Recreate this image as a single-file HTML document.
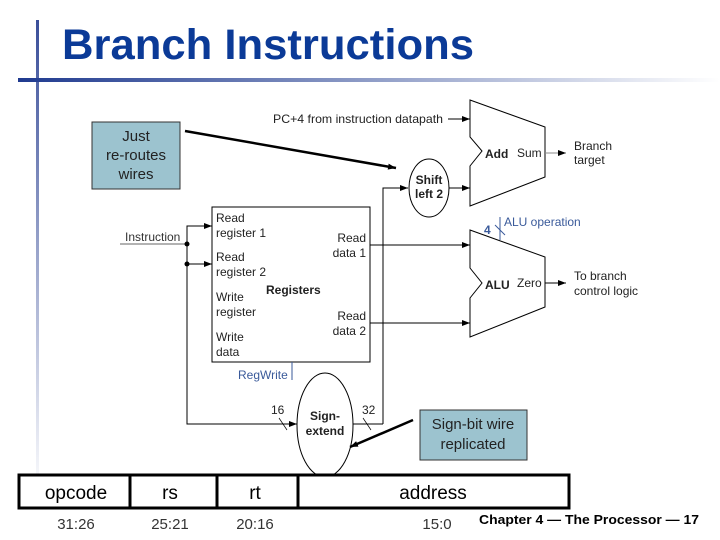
<!DOCTYPE html>
<html><head><meta charset="utf-8"><style>
html,body{margin:0;padding:0;background:#fff;}
svg{display:block;font-family:"Liberation Sans",sans-serif;}
</style></head><body>
<svg width="720" height="540" viewBox="0 0 720 540" xmlns="http://www.w3.org/2000/svg">
<defs>
<linearGradient id="hg" x1="0" x2="1" y1="0" y2="0"><stop offset="0" stop-color="#1f3a8f"/><stop offset="1" stop-color="#ffffff"/></linearGradient>
<linearGradient id="vg" x1="0" x2="0" y1="0" y2="1"><stop offset="0" stop-color="#3a4f9a"/><stop offset="1" stop-color="#ffffff"/></linearGradient>
<marker id="a" markerWidth="8" markerHeight="6" refX="8" refY="3" orient="auto" markerUnits="userSpaceOnUse"><path d="M0,0L8,3L0,6z" fill="#000"/></marker>
</defs>
<rect x="36" y="20" width="3" height="480" fill="url(#vg)"/>
<rect x="18" y="78" width="702" height="4" fill="url(#hg)"/>
<text x="62" y="59" font-size="43" font-weight="bold" fill="#0b3a97" textLength="412" lengthAdjust="spacingAndGlyphs">Branch Instructions</text>

<rect x="92" y="122" width="88" height="67" fill="#9cc3cf" stroke="#333"/>
<text font-size="15" text-anchor="middle" fill="#222"><tspan x="136" y="141">Just</tspan><tspan x="136" y="160">re-routes</tspan><tspan x="136" y="179">wires</tspan></text>
<line x1="185" y1="131" x2="396" y2="168" stroke="#000" stroke-width="2.5" marker-end="url(#a)"/>

<g font-size="12" fill="#222">
<text x="273" y="123" textLength="170" lengthAdjust="spacingAndGlyphs">PC+4 from instruction datapath</text>
<line x1="448" y1="119" x2="470" y2="119" stroke="#000" marker-end="url(#a)"/>
<polygon points="470,100 545,127 545,177 470,206 470,166 482,151 470,137" fill="#fff" stroke="#000"/>
<text x="485" y="158" font-weight="bold">Add</text><text x="517" y="157">Sum</text>
<line x1="545" y1="153" x2="566" y2="153" stroke="#888" marker-end="url(#a)"/>
<text x="574" y="150">Branch</text><text x="574" y="164">target</text>

<ellipse cx="429" cy="188" rx="20" ry="29" fill="#fff" stroke="#000"/>
<text x="429" y="184" font-weight="bold" text-anchor="middle">Shift</text>
<text x="429" y="198" font-weight="bold" text-anchor="middle">left 2</text>
<polyline points="383,424 383,188 408,188" fill="none" stroke="#000" marker-end="url(#a)"/>
<line x1="449" y1="188" x2="470" y2="188" stroke="#000" marker-end="url(#a)"/>

<polygon points="470,230 545,257 545,307 470,337 470,298 482,283 470,268" fill="#fff" stroke="#000"/>
<text x="485" y="289" font-weight="bold">ALU</text><text x="517" y="287">Zero</text>
<line x1="545" y1="283" x2="566" y2="283" stroke="#000" marker-end="url(#a)"/>
<text x="574" y="280">To branch</text><text x="574" y="295">control logic</text>
<line x1="500" y1="217" x2="500" y2="240" stroke="#3a5a9a"/>
<line x1="495" y1="225" x2="505" y2="235" stroke="#3a5a9a"/>
<text x="484" y="234" fill="#3a5a9a" font-weight="bold">4</text>
<text x="504" y="226" fill="#3a5a9a">ALU operation</text>

<rect x="212" y="207" width="158" height="155" fill="#fff" stroke="#000"/>
<text x="216" y="222">Read</text><text x="216" y="237">register 1</text>
<text x="216" y="261">Read</text><text x="216" y="276">register 2</text>
<text x="216" y="301">Write</text><text x="216" y="316">register</text>
<text x="216" y="341">Write</text><text x="216" y="356">data</text>
<text x="266" y="294" font-weight="bold">Registers</text>
<text x="366" y="242" text-anchor="end">Read</text><text x="366" y="257" text-anchor="end">data 1</text>
<text x="366" y="320" text-anchor="end">Read</text><text x="366" y="335" text-anchor="end">data 2</text>
<line x1="370" y1="245" x2="470" y2="245" stroke="#000" marker-end="url(#a)"/>
<line x1="370" y1="323" x2="470" y2="323" stroke="#000" marker-end="url(#a)"/>

<text x="125" y="241" fill="#333">Instruction</text>
<line x1="120" y1="244" x2="187" y2="244" stroke="#999" stroke-width="1.5"/>
<polyline points="212,226 187,226 187,424 297,424" fill="none" stroke="#000" marker-end="url(#a)"/>
<line x1="187" y1="226" x2="212" y2="226" stroke="#000" marker-end="url(#a)"/>
<line x1="187" y1="264" x2="212" y2="264" stroke="#000" marker-end="url(#a)"/>
<circle cx="187" cy="244" r="2.5" fill="#000"/><circle cx="187" cy="264" r="2.5" fill="#000"/>
<text x="238" y="379" fill="#3a5a9a">RegWrite</text>
<line x1="292" y1="362" x2="292" y2="380" stroke="#3a5a9a"/>
<text x="271" y="414">16</text><line x1="279" y1="418" x2="287" y2="430" stroke="#000" stroke-width="0.7"/>
<text x="362" y="414">32</text><line x1="363" y1="418" x2="371" y2="430" stroke="#000" stroke-width="0.7"/>
<line x1="353" y1="424" x2="383" y2="424" stroke="#000"/>
<ellipse cx="325" cy="425" rx="28" ry="52" fill="#fff" stroke="#000"/>
<text x="325" y="420" font-weight="bold" text-anchor="middle">Sign-</text>
<text x="325" y="435" font-weight="bold" text-anchor="middle">extend</text>
</g>

<rect x="420" y="410" width="107" height="50" fill="#9cc3cf" stroke="#333"/>
<text font-size="15" text-anchor="middle" fill="#222"><tspan x="473" y="429">Sign-bit wire</tspan><tspan x="473" y="449">replicated</tspan></text>
<line x1="413" y1="420" x2="350" y2="447" stroke="#000" stroke-width="2.5" marker-end="url(#a)"/>

<rect x="19" y="475" width="550" height="33" fill="#fff" stroke="#000" stroke-width="3"/>
<line x1="130" y1="475" x2="130" y2="508" stroke="#000" stroke-width="3"/>
<line x1="217" y1="475" x2="217" y2="508" stroke="#000" stroke-width="3"/>
<line x1="298" y1="475" x2="298" y2="508" stroke="#000" stroke-width="3"/>
<g font-size="19" text-anchor="middle" fill="#000">
<text x="76" y="499">opcode</text><text x="170" y="499">rs</text><text x="255" y="499">rt</text><text x="433" y="499">address</text>
</g>
<g font-size="15" text-anchor="middle" fill="#333">
<text x="76" y="529">31:26</text><text x="170" y="529">25:21</text><text x="255" y="529">20:16</text><text x="437" y="529">15:0</text>
</g>
<text x="479" y="524" font-size="13" font-weight="bold" fill="#000" textLength="220" lengthAdjust="spacingAndGlyphs">Chapter 4 — The Processor — 17</text>
</svg>
</body></html>
